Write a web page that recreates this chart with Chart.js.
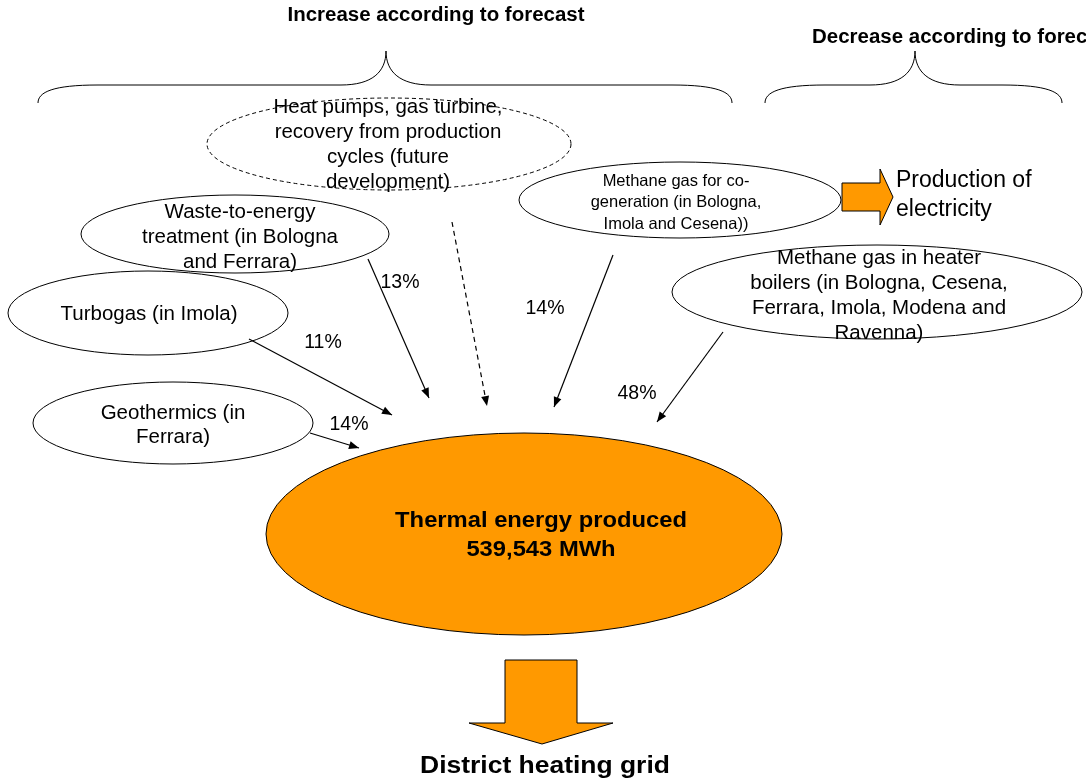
<!DOCTYPE html>
<html>
<head>
<meta charset="utf-8">
<script src="https://cdn.jsdelivr.net/npm/chart.js@4/dist/chart.umd.min.js"></script>
<style>
  body { margin: 0; background: #fff; }
  canvas { display: block; }
</style>
</head>
<body>
<canvas id="flow" width="1086" height="783"></canvas>
<script>
// source nodes and their share of the thermal energy produced
const sourceNames = [
  ['Waste-to-energy', 'treatment (in Bologna', 'and Ferrara)'],
  ['Turbogas (in Imola)'],
  ['Geothermics (in', 'Ferrara)'],
  ['Heat pumps, gas turbine,', 'recovery from production', 'cycles (future', 'development)'],
  ['Methane gas for co-', 'generation (in Bologna,', 'Imola and Cesena))'],
  ['Methane gas in heater', 'boilers (in Bologna, Cesena,', 'Ferrara, Imola, Modena and', 'Ravenna)']
];
const sharePct = [13, 11, 14, null, 14, 48];
const futureSource = [false, false, false, true, false, false];
const groupTitles = ['Increase according to forecast', 'Decrease according to forecast'];
const totalLabel = 'Thermal energy produced';
const totalMWh = 539543;
const electricityLabel = ['Production of', 'electricity'];
const gridLabel = 'District heating grid';

const ORANGE = '#ff9900';

// drawing layout (canvas units, the scales run 0..1086 / 0..783)
const layout = {
  nodes: [
    { cx: 235, cy: 234, rx: 154, ry: 39, tx: 240, ty: 212, lh: 25, font: 20.5 },
    { cx: 148, cy: 313, rx: 140, ry: 42, tx: 149, ty: 314, lh: 25, font: 20.5 },
    { cx: 173, cy: 423, rx: 140, ry: 41, tx: 173, ty: 413, lh: 24, font: 20.5 },
    { cx: 389, cy: 144, rx: 182, ry: 46, tx: 388, ty: 107, lh: 25, font: 20.5 },
    { cx: 680, cy: 200, rx: 161, ry: 38, tx: 676, ty: 181, lh: 21.5, font: 16.5 },
    { cx: 877, cy: 292, rx: 205, ry: 47, tx: 879, ty: 258, lh: 25, font: 20.5 }
  ],
  arrows: [
    [[368, 259], [429, 398]],
    [[249, 339], [392, 415]],
    [[310, 433], [359, 448]],
    [[452, 222], [487, 406]],
    [[613, 255], [554, 407]],
    [[723, 332], [657, 422]]
  ],
  pctPos: [[400, 283], [323, 343], [349, 425], null, [545, 309], [637, 394]],
  total: { cx: 524, cy: 534, rx: 258, ry: 101, tx: 541, ty: 521, lh: 29 },
  braces: [
    { x0: 38, x1: 732, peak: 386 },
    { x0: 765, x1: 1062, peak: 915 }
  ],
  titles: [{ x: 436, y: 16, align: 'center' }, { x: 812, y: 38, align: 'left' }]
};

const arrowSets = layout.arrows.map((a, i) => ({
  data: a.map(p => ({ x: p[0], y: p[1] })),
  showLine: true,
  pointRadius: 0,
  borderColor: '#000',
  borderWidth: 1.2,
  borderDash: futureSource[i] ? [5, 4] : [],
  fill: false
}));

function text(ctx, str, x, y, size, bold, align, sx) {
  ctx.save();
  ctx.font = (bold ? 'bold ' : '') + size + 'px "Liberation Sans", Arial, sans-serif';
  ctx.fillStyle = '#000';
  ctx.textAlign = align || 'center';
  ctx.textBaseline = 'middle';
  ctx.translate(x, y);
  ctx.scale(sx || 1, 1);
  ctx.fillText(str, 0, 0);
  ctx.restore();
}

function ellipse(ctx, cx, cy, rx, ry, fill, dash) {
  ctx.save();
  ctx.beginPath();
  ctx.ellipse(cx, cy, rx, ry, 0, 0, Math.PI * 2);
  if (fill) { ctx.fillStyle = fill; ctx.fill(); }
  ctx.setLineDash(dash ? [4, 3] : []);
  ctx.strokeStyle = '#000';
  ctx.lineWidth = 1;
  ctx.stroke();
  ctx.restore();
}

function poly(ctx, pts) {
  ctx.save();
  ctx.beginPath();
  pts.forEach((p, i) => i ? ctx.lineTo(p[0], p[1]) : ctx.moveTo(p[0], p[1]));
  ctx.closePath();
  ctx.fillStyle = ORANGE;
  ctx.fill();
  ctx.strokeStyle = '#000';
  ctx.lineWidth = 1;
  ctx.stroke();
  ctx.restore();
}

const diagramPlugin = {
  id: 'diagram',
  beforeDatasetsDraw(chart) {
    const ctx = chart.ctx;
    const X = v => chart.scales.x.getPixelForValue(v);
    const Y = v => chart.scales.y.getPixelForValue(v);

    // braces + group titles
    ctx.save();
    ctx.strokeStyle = '#000';
    ctx.lineWidth = 1;
    layout.braces.forEach(b => {
      const yEnd = Y(103), yMid = Y(85), yTop = Y(51);
      ctx.beginPath();
      ctx.moveTo(X(b.x0), yEnd);
      ctx.bezierCurveTo(X(b.x0), Y(92), X(b.x0 + 15), yMid, X(b.x0 + 60), yMid);
      ctx.lineTo(X(b.peak - 45), yMid);
      ctx.bezierCurveTo(X(b.peak - 14), yMid, X(b.peak), Y(72), X(b.peak), yTop);
      ctx.bezierCurveTo(X(b.peak), Y(72), X(b.peak + 14), yMid, X(b.peak + 45), yMid);
      ctx.lineTo(X(b.x1 - 60), yMid);
      ctx.bezierCurveTo(X(b.x1 - 15), yMid, X(b.x1), Y(92), X(b.x1), yEnd);
      ctx.stroke();
    });
    ctx.restore();
    groupTitles.forEach((t, i) => {
      const p = layout.titles[i];
      text(ctx, t, X(p.x), Y(p.y), 19.5, true, p.align, 1.05);
    });

    // source ellipses
    sourceNames.forEach((lines, i) => {
      const n = layout.nodes[i];
      ellipse(ctx, X(n.cx), Y(n.cy), n.rx, n.ry, null, futureSource[i]);
      lines.forEach((l, k) => text(ctx, l, X(n.tx), Y(n.ty + k * n.lh), n.font, false));
    });

    // total node
    const t = layout.total;
    ellipse(ctx, X(t.cx), Y(t.cy), t.rx, t.ry, ORANGE, false);
    text(ctx, totalLabel, X(t.tx), Y(t.ty), 22, true, 'center', 1.08);
    text(ctx, totalMWh.toLocaleString('en-US') + ' MWh', X(t.tx), Y(t.ty + t.lh), 22, true, 'center', 1.08);

    // electricity output arrow
    poly(ctx, [[842, 183], [880, 183], [880, 169], [893, 197], [880, 225], [880, 211], [842, 211]].map(p => [X(p[0]), Y(p[1])]));
    electricityLabel.forEach((l, k) => text(ctx, l, X(896), Y(181 + k * 29), 23, false, 'left'));

    // district heating arrow
    poly(ctx, [[505, 660], [577, 660], [577, 723], [613, 723], [542, 744], [469, 723], [505, 723]].map(p => [X(p[0]), Y(p[1])]));
    text(ctx, gridLabel, X(545), Y(767), 23, true, 'center', 1.15);

    // shares
    sharePct.forEach((v, i) => {
      if (v == null) return;
      const p = layout.pctPos[i];
      text(ctx, v + '%', X(p[0]), Y(p[1]), 19.5, false);
    });
  },
  afterDatasetsDraw(chart) {
    const ctx = chart.ctx;
    chart.data.datasets.forEach((ds, i) => {
      const meta = chart.getDatasetMeta(i);
      const a = meta.data[0], b = meta.data[1];
      const ang = Math.atan2(b.y - a.y, b.x - a.x);
      const len = 10, half = 4;
      ctx.save();
      ctx.translate(b.x, b.y);
      ctx.rotate(ang);
      ctx.beginPath();
      ctx.moveTo(0, 0);
      ctx.lineTo(-len, -half);
      ctx.lineTo(-len, half);
      ctx.closePath();
      ctx.fillStyle = '#000';
      ctx.fill();
      ctx.restore();
    });
  }
};

new Chart(document.getElementById('flow'), {
  type: 'scatter',
  data: { datasets: arrowSets },
  options: {
    responsive: false,
    animation: false,
    devicePixelRatio: 1,
    layout: { padding: 0 },
    scales: {
      x: { type: 'linear', min: 0, max: 1086, display: false },
      y: { type: 'linear', min: 0, max: 783, reverse: true, display: false }
    },
    plugins: { legend: { display: false }, tooltip: { enabled: false } }
  },
  plugins: [diagramPlugin]
});
</script>
</body>
</html>
